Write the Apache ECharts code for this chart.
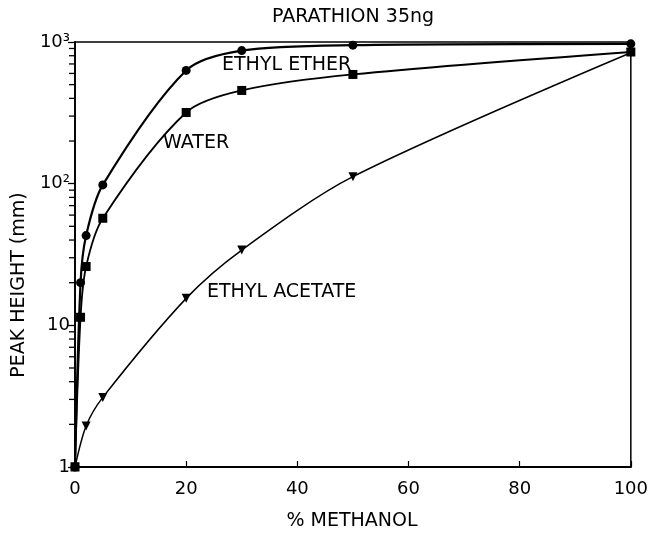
<!DOCTYPE html>
<html>
<head>
<meta charset="utf-8">
<title>PARATHION 35ng</title>
<script src="https://cdn.jsdelivr.net/npm/echarts@6/dist/echarts.min.js"></script>
<style>
  html, body { margin: 0; padding: 0; background: #fff; }
  #chart { width: 651px; height: 534px; }
</style>
</head>
<body>
<div id="chart"></div>
<script>
// % methanol for each solvent
const etherX = [0, 1, 2, 5, 20, 30, 50, 100]
const etherY = [1, 20, 43, 98, 630, 870, 950, 970]
const waterX = [0, 1, 2, 5, 20, 30, 50, 100]
const waterY = [1, 11.4, 26, 57, 318, 455, 590, 850]
const acetateX = [0, 2, 5, 20, 30, 50, 100]
const acetateY = [1, 1.95, 3.1, 15.5, 34, 112, 840]

const xTicks = [0, 20, 40, 60, 80, 100]
const yLabels = { 1: '1', 10: '10', 100: '10²', 1000: '10³' }
const yMinor = [2, 3, 4, 5, 6, 7, 8, 9, 20, 30, 40, 50, 60, 70, 80, 90, 200, 300, 400, 500, 600, 700, 800, 900]

const font = '"DejaVu Sans", sans-serif'

function pairs(xs, ys) {
  return xs.map((x, i) => [x, ys[i]])
}

const chart = echarts.init(document.getElementById('chart'))

chart.setOption({
  backgroundColor: '#fff',
  animation: false,
  grid: {
    left: 75,
    right: 19,
    top: 42,
    bottom: 67,
    show: true,
    borderColor: '#000',
    borderWidth: 1.5,
    backgroundColor: 'transparent'
  },
  xAxis: {
    type: 'value',
    min: 0,
    max: 100,
    interval: 20,
    axisLine: { show: true, lineStyle: { color: '#000', width: 1.8 } },
    axisTick: { show: true, inside: true, length: 6, lineStyle: { color: '#000', width: 1.2 } },
    axisLabel: {
      color: '#000', fontFamily: font, fontSize: 18, margin: 13,
      formatter: v => xTicks.indexOf(v) >= 0 ? String(v) : ''
    },
    splitLine: { show: false }
  },
  yAxis: {
    type: 'log',
    logBase: 10,
    min: 1,
    max: 1000,
    axisLine: { show: true, lineStyle: { color: '#000', width: 1.8 } },
    axisTick: { show: true, inside: false, length: 7, lineStyle: { color: '#000', width: 1.3 } },
    axisLabel: {
      color: '#000', fontFamily: font, fontSize: 18, margin: 5,
      formatter: v => yLabels[v] || ''
    },
    splitLine: { show: false }
  },
  graphic: [
    { type: 'text', x: 353, y: 17, style: { text: 'PARATHION 35ng', fill: '#000', font: '19px ' + font, textAlign: 'center', textVerticalAlign: 'middle' } },
    { type: 'text', x: 222, y: 65, style: { text: 'ETHYL ETHER', fill: '#000', font: '19px ' + font, textVerticalAlign: 'middle' } },
    { type: 'text', x: 163, y: 143, style: { text: 'WATER', fill: '#000', font: '19px ' + font, textVerticalAlign: 'middle' } },
    { type: 'text', x: 207, y: 292, style: { text: 'ETHYL ACETATE', fill: '#000', font: '19px ' + font, textVerticalAlign: 'middle' } },
    { type: 'text', x: 352, y: 521, style: { text: '% METHANOL', fill: '#000', font: '19px ' + font, textAlign: 'center', textVerticalAlign: 'middle' } },
    { type: 'text', x: 19, y: 285, rotation: Math.PI / 2, style: { text: 'PEAK HEIGHT (mm)', fill: '#000', font: '19px ' + font, textAlign: 'center', textVerticalAlign: 'middle' } }
  ],
  series: [
    {
      name: 'ETHYL ETHER',
      type: 'line',
      data: pairs(etherX, etherY),
      smooth: 0.3,
      symbol: 'circle',
      symbolSize: 9,
      itemStyle: { color: '#000' },
      lineStyle: { color: '#000', width: 2.2 },
      z: 3
    },
    {
      name: 'WATER',
      type: 'line',
      data: pairs(waterX, waterY),
      smooth: 0.3,
      symbol: 'rect',
      symbolSize: 9,
      itemStyle: { color: '#000' },
      lineStyle: { color: '#000', width: 1.8 },
      z: 3
    },
    {
      name: 'ETHYL ACETATE',
      type: 'line',
      data: pairs(acetateX, acetateY),
      smooth: 0.3,
      symbol: 'triangle',
      symbolRotate: 180,
      symbolSize: 9,
      itemStyle: { color: '#000' },
      lineStyle: { color: '#000', width: 1.5 },
      z: 3
    },
    {
      // minor ticks on the log axis
      type: 'custom',
      coordinateSystem: 'cartesian2d',
      data: yMinor.map(v => [1, v]),
      encode: { x: 0, y: 1 },
      clip: false,
      silent: true,
      renderItem: function (params, api) {
        const p = api.coord([0, api.value(1)])
        return {
          type: 'line',
          shape: { x1: p[0] - 6, y1: p[1], x2: p[0], y2: p[1] },
          style: { stroke: '#000', lineWidth: 1.3, fill: null }
        }
      },
      z: 10
    }
  ]
})
</script>
</body>
</html>
